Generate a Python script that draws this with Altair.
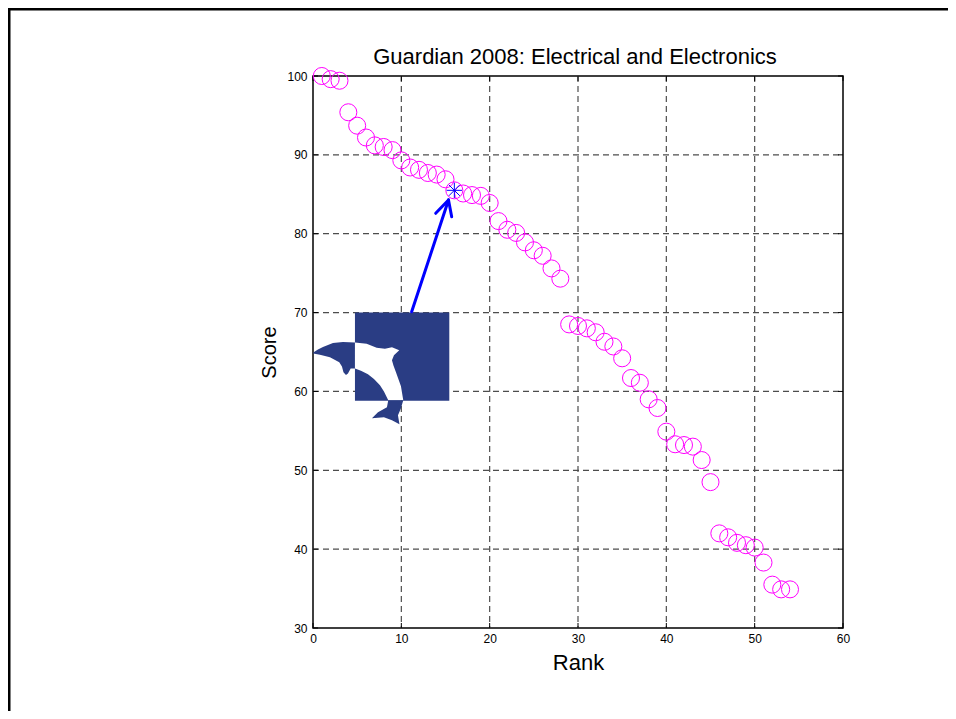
import altair as alt
import pandas as pd

# ---- data ----
rank = list(range(1, 55))
score = [100.0, 99.6, 99.4, 95.4, 93.7, 92.2, 91.2, 91.0, 90.6, 89.3,
         88.4, 88.1, 87.7, 87.5, 86.9, 85.5, 85.1, 84.9, 84.8, 83.9,
         81.6, 80.5, 80.1, 78.9, 77.9, 77.2, 75.6, 74.3, 68.5, 68.3,
         68.0, 67.5, 66.3, 65.7, 64.2, 61.7, 61.1, 59.0, 57.9, 54.9,
         53.3, 53.2, 53.0, 51.3, 48.5, 42.0, 41.5, 40.8, 40.5, 40.2,
         38.3, 35.5, 34.9, 34.9]
highlight_rank = [16]
highlight_score = [85.5]
x_ticks = [0, 10, 20, 30, 40, 50, 60]
y_ticks = [30, 40, 50, 60, 70, 80, 90, 100]
x_grid = [10, 20, 30, 40, 50]
y_grid = [40, 50, 60, 70, 80, 90]
title_text = ["Guardian 2008: Electrical and Electronics"]
x_title = "Rank"
y_title = "Score"

# arrow (annotation) in data units: shaft + two head wings
arrow_x = [11.17, 15.34, 15.34]
arrow_y = [70.1, 84.28, 84.28]
arrow_x2 = [15.34, 13.89, 15.70]
arrow_y2 = [84.28, 82.59, 82.16]

# logo box (annotation) in data units
logo_x = [4.75]
logo_x2 = [15.43]
logo_y = [70.0]
logo_y2 = [58.83]

# ---- layout ----
W, H = 530, 552
PADL, PADT, PADR, PADB = 305, 68, 105, 83
FONT = "Liberation Sans"

xs = alt.Scale(domain=[0, 60], nice=False, zero=False)
ys = alt.Scale(domain=[30, 100], nice=False, zero=False)

AX = alt.Axis(values=x_ticks, tickSize=0, grid=False, domain=False,
              labelFont=FONT, labelFontSize=12, labelPadding=5,
              labelFlush=False, labelOverlap=False, labelColor="black",
              titleFont=FONT, titleFontSize=22, titleFontWeight="normal",
              titlePadding=8, titleColor="black")
AY = alt.Axis(values=y_ticks, tickSize=0, grid=False, domain=False,
              labelFont=FONT, labelFontSize=12, labelPadding=6,
              labelFlush=False, labelOverlap=False, labelColor="black",
              titleFont=FONT, titleFontSize=20, titleFontWeight="normal",
              titlePadding=7, titleColor="black")


def X(field):
    return alt.X(field, scale=xs, axis=AX, title=x_title)


def Y(field):
    return alt.Y(field, scale=ys, axis=AY, title=y_title)


df = pd.DataFrame({"rank": rank, "score": score})
hl = pd.DataFrame({"rank": highlight_rank, "score": highlight_score})
one = pd.DataFrame({"a": [0]})


def pts(rel):
    # pixel offsets from logo anchor -> unit path (scale 50 px)
    return "M" + "L".join(f"{x/50:.3f},{y/50:.3f}" for x, y in rel) + "Z"


head = pts([(-41.7, 40.0), (-37, 37), (-32, 34.4), (-22, 30.4), (-12, 29.4), (0, 30.0),
            (0, 56), (-4.3, 56), (-7, 61), (-9, 62.5), (-11.5, 59.7), (-13, 54),
            (-15.7, 49.7), (-25, 44.7), (-35, 42.2), (-41.7, 41)])
body = pts([(0, 30.0), (11.7, 31.2), (21.7, 35.2), (30, 36.2), (37, 34.7), (44.3, 37.7),
            (39, 42.7), (37, 47.7), (38.5, 53), (41, 59.7), (46, 73.7), (48.3, 87.7),
            (33.3, 87.7), (29, 79), (25, 72.7), (19, 66.5), (13, 61.7), (6, 58.3), (0, 56)])
tail = pts([(33.3, 87.7), (48.3, 87.7), (46, 95.7), (43, 102.7), (44.5, 111.7),
            (37, 107.7), (29, 104.7), (17, 105.7), (23, 99.7), (32, 94.7)])

asterisk = "M-1,0L1,0M0,-1L0,1M-0.71,-0.71L0.71,0.71M-0.71,0.71L0.71,-0.71"

GRID = dict(color="#4d4d4d", strokeWidth=1.2, strokeDash=[6, 4])

# grid
vgrid = alt.Chart(pd.DataFrame({"v": x_grid})).mark_rule(**GRID).encode(
    x=X("v:Q"), y=alt.value(0), y2=alt.value(H))
hgrid = alt.Chart(pd.DataFrame({"v": y_grid})).mark_rule(**GRID).encode(
    y=Y("v:Q"), x=alt.value(0), x2=alt.value(W))

# inward ticks (box style)
xt = pd.DataFrame({"v": x_ticks})
yt = pd.DataFrame({"v": y_ticks})
tick_b = alt.Chart(xt).mark_rule(color="black", strokeWidth=1).encode(
    x=X("v:Q"), y=alt.value(H), y2=alt.value(H - 5))
tick_t = alt.Chart(xt).mark_rule(color="black", strokeWidth=1).encode(
    x=X("v:Q"), y=alt.value(0), y2=alt.value(5))
tick_l = alt.Chart(yt).mark_rule(color="black", strokeWidth=1).encode(
    y=Y("v:Q"), x=alt.value(0), x2=alt.value(5))
tick_r = alt.Chart(yt).mark_rule(color="black", strokeWidth=1).encode(
    y=Y("v:Q"), x=alt.value(W), x2=alt.value(W - 5))

# logo
logo_df = pd.DataFrame({"x": logo_x, "x2": logo_x2, "y": logo_y, "y2": logo_y2})
logo_box = alt.Chart(logo_df).mark_rect(color="#2a3d84").encode(
    x=X("x:Q"), x2="x2:Q", y=Y("y:Q"), y2="y2:Q")


def logo_piece(path, color):
    return alt.Chart(logo_df).mark_point(
        shape=path, filled=True, fill=color, strokeWidth=0, opacity=1, size=10000
    ).encode(x=X("x:Q"), y=Y("y:Q"))


logo_head = logo_piece(head, "#2a3d84")
logo_body = logo_piece(body, "#ffffff")
logo_tail = logo_piece(tail, "#2a3d84")

# arrow
arrow_df = pd.DataFrame({"x": arrow_x, "y": arrow_y, "x2": arrow_x2, "y2": arrow_y2})
arrow = alt.Chart(arrow_df).mark_rule(color="#0000ff", strokeWidth=3, strokeCap="round").encode(
    x=X("x:Q"), x2="x2:Q", y=Y("y:Q"), y2="y2:Q")

# main points
points = alt.Chart(df).mark_point(
    shape="circle", filled=False, color="#ff00ff", size=290, strokeWidth=1, opacity=1
).encode(x=X("rank:Q"), y=Y("score:Q"))

star = alt.Chart(hl).mark_point(
    shape=asterisk, filled=False, color="#0000ff", size=240, strokeWidth=1, opacity=1
).encode(x=X("rank:Q"), y=Y("score:Q"))

# chart title as a text mark above the plot
title = alt.Chart(pd.DataFrame({"t": title_text})).mark_text(
    font=FONT, fontSize=22, color="black", align="center", baseline="alphabetic"
).encode(text="t:N", x=alt.value(W / 2 - 3), y=alt.value(-12))

# outer frame of the figure
frame_top = alt.Chart(one).mark_rule(color="black", strokeWidth=3).encode(
    x=alt.value(-PADL), x2=alt.value(W + PADR), y=alt.value(-PADT + 1))
frame_left = alt.Chart(one).mark_rule(color="black", strokeWidth=3).encode(
    x=alt.value(-PADL + 1), y=alt.value(-PADT), y2=alt.value(H + PADB))

chart = alt.layer(
    vgrid, hgrid, tick_b, tick_t, tick_l, tick_r,
    logo_box, logo_head, logo_body, logo_tail, arrow,
    points, star, title, frame_top, frame_left,
).properties(
    width=W, height=H,
    autosize=alt.AutoSizeParams(type="none"),
    padding={"left": PADL, "top": PADT, "right": PADR, "bottom": PADB},
    background="white",
).configure_view(stroke="black", strokeWidth=1.5)

chart.save("out.html", embed_options={"renderer": "svg", "actions": False})
